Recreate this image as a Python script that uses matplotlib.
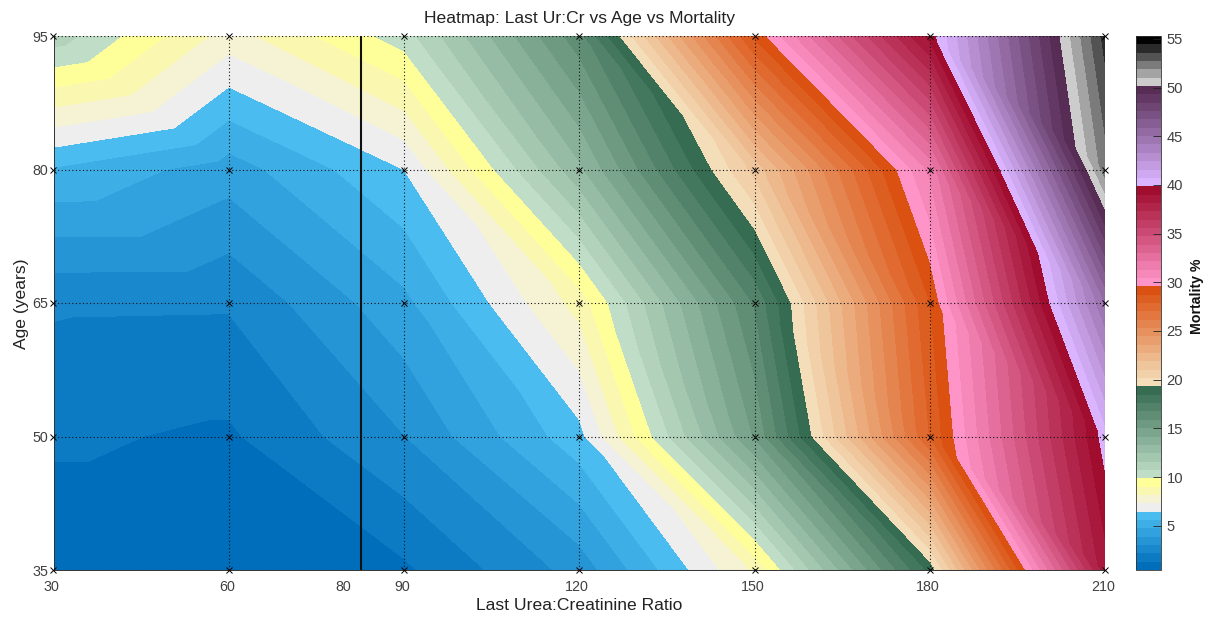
import numpy as np
import matplotlib
matplotlib.use("Agg")
import matplotlib.pyplot as plt
import matplotlib.tri as mtri
from matplotlib.colors import LinearSegmentedColormap, to_hex
from matplotlib.transforms import ScaledTranslation

ratio = [30, 60, 90, 120, 150, 180, 210]
age = [35, 50, 65, 80, 95]
mortality_age35 = [0.70, 0.70, 1.15, 3.35, 8.3, 18.7, 38.6]
mortality_age50 = [1.45, 1.17, 3.0, 6.15, 15.1, 27.9, 40.3]
mortality_age65 = [2.28, 2.25, 4.5, 8.5, 16.8, 28.7, 45.0]
mortality_age80 = [5.5, 4.3, 6.45, 13.1, 21.3, 31.5, 52.3]
mortality_age95 = [11.2, 7.77, 10.3, 16.4, 28.9, 39.3, 53.9]
marker_ratio = 82.6
x_tick_values = [30, 60, 80, 90, 120, 150, 180, 210]
y_tick_values = [35, 50, 65, 80, 95]
cbar_ticks = [5, 10, 15, 20, 25, 30, 35, 40, 45, 50, 55]

plt.rcParams['font.family'] = ['Liberation Sans', 'DejaVu Sans']
W, H = 1216, 617
fig = plt.figure(figsize=(W / 100, H / 100), dpi=100)
L, R, T, B = 53.5, 1105, 36, 570
ax = fig.add_axes([L / W, 1 - B / H, (R - L) / W, (B - T) / H])


def ramp(c0, c1, n):
    cm = LinearSegmentedColormap.from_list('r', [c0, c1])
    return [to_hex(cm(v)) for v in np.linspace(0, 1, n)]


band_colors = (ramp('#006EBB', '#4ABCEF', 7)
               + ['#EEEEEE', '#F5F3D3', '#FAF8B0', '#FFFF99']
               + ramp('#C0DDC8', '#366D52', 11)
               + ramp('#F4DEB9', '#DB5112', 12)
               + ramp('#FF94C8', '#A00D2F', 12)
               + ramp('#DAB4FF', '#572C55', 12)
               + ramp('#CCCCCC', '#020202', 6))
levels = np.linspace(0.45, 55.3, 65)

Z = np.array([mortality_age35, mortality_age50, mortality_age65,
              mortality_age80, mortality_age95])
X, Y = np.meshgrid(ratio, age)
nx, ny = len(ratio), len(age)
triangles = []
for j in range(ny - 1):
    for i in range(nx - 1):
        ll = j * nx + i
        lr = ll + 1
        ul = ll + nx
        ur = ul + 1
        triangles += [[ul, ll, lr], [ul, lr, ur]]
tri = mtri.Triangulation(X.ravel(), Y.ravel(), triangles)
cs = ax.tricontourf(tri, Z.ravel(), levels=levels, colors=band_colors)

ax.set_xlim(30, 210)
ax.set_ylim(35, 95)
for v in ratio:
    ax.axvline(v, color='#111111', ls=(0, (1, 2.2)), lw=0.8, zorder=3)
for v in age:
    ax.axhline(v, color='#111111', ls=(0, (1, 2.2)), lw=0.8, zorder=3)
ax.axvline(marker_ratio, color='#111111', lw=1.5, zorder=4)
ax.plot(X.ravel(), Y.ravel(), 'x', color='k', ms=4.5, mew=0.7, clip_on=False, zorder=5)

ax.set_xticks(x_tick_values)
ax.set_yticks(y_tick_values)
ax.tick_params(axis='both', direction='in', length=0, width=0.6, color='#222222',
               labelcolor='#404040', labelsize=10.3, pad=4)
ax.tick_params(axis='x', pad=7)
shift = ScaledTranslation(-2 / 100, 0, fig.dpi_scale_trans)
for lab in ax.get_xticklabels():
    lab.set_transform(lab.get_transform() + shift)
for s in ['top', 'right']:
    ax.spines[s].set_visible(False)
for s in ['left', 'bottom']:
    ax.spines[s].set_linewidth(0.7)
    ax.spines[s].set_color('#333333')

fig.text(580 / W, 1 - 18 / H, 'Heatmap: Last Ur:Cr vs Age vs Mortality', ha='center', va='center',
         fontsize=12.6, color='#222222')
fig.text(579 / W, 1 - 606 / H, 'Last Urea:Creatinine Ratio', ha='center', va='center',
         fontsize=12.6, color='#222222')
fig.text(22 / W, 1 - 304 / H, 'Age (years)', ha='center', va='center', rotation=90,
         fontsize=12.6, color='#222222')

cax = fig.add_axes([1136 / W, 1 - B / H, 25 / W, (B - T) / H])
cb = fig.colorbar(cs, cax=cax)
cb.set_ticks(cbar_ticks)
cb.ax.tick_params(direction='in', length=6, width=0.6, color='#222222',
                  labelcolor='#404040', labelsize=10.6, pad=4)
cb.outline.set_linewidth(0.6)
cb.outline.set_edgecolor('#333333')
fig.text(1197 / W, 1 - 296 / H, 'Mortality %', ha='center', va='center', rotation=90,
         fontsize=10.2, fontweight='bold', color='#111111')

fig.savefig('out.png', dpi=100)
